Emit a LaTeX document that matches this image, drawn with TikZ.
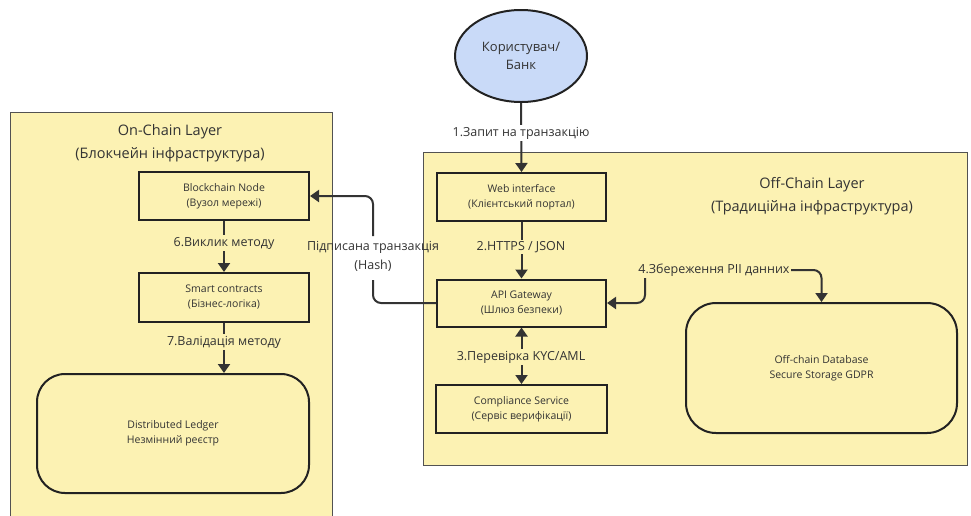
\documentclass[tikz,border=0pt]{standalone}
\usepackage{fontspec}
\setmainfont{Open Sans}
\usetikzlibrary{arrows.meta,shapes.geometric}
\definecolor{layerfill}{HTML}{FCF2B3}
\definecolor{userfill}{HTML}{C9DAF8}
\definecolor{ink}{HTML}{333333}
\definecolor{frame}{HTML}{222222}
\begin{document}
\begin{tikzpicture}[x=1pt,y=-1pt,
  layer/.style={draw=ink!85, line width=1pt, fill=layerfill},
  layertitle/.style={align=center, text=ink, font=\fontsize{14.5}{23}\selectfont},
  stepbox/.style={draw=frame, line width=2pt, fill=layerfill, align=center,
    text=ink, font=\fontsize{10.5}{15}\selectfont, inner sep=0pt},
  store/.style={stepbox, rounded corners=28pt},
  flow/.style={draw=ink, line width=2pt, -{Triangle[length=9pt,width=12pt]}},
  bothflow/.style={draw=ink, line width=2pt,
    {Triangle[length=9pt,width=12pt]}-{Triangle[length=9pt,width=12pt]}},
  plain/.style={draw=ink, line width=2pt},
  edgetext/.style={align=center, text=ink, font=\fontsize{12.5}{19}\selectfont,
    inner sep=1.5pt},
]
\useasboundingbox (0,0) rectangle (971,515);

% layers
\path[layer] (10,112) rectangle (332,530);
\path[layer] (423,152) rectangle (967,465);
\node[layertitle] (ontitle) at (170,143) {On-Chain Layer\\(Блокчейн інфраструктура)};
\node[layertitle] (offtitle) at (812,196) {Off-Chain Layer\\(Традиційна інфраструктура)};

% user
\node[ellipse, draw=frame, line width=2pt, fill=userfill, minimum width=132pt,
  minimum height=92pt, inner sep=0pt, align=center, text=ink,
  font=\fontsize{13}{18}\selectfont] (user) at (521,56) {Користувач/\\Банк};

% on-chain nodes
\node[stepbox, minimum width=170pt, minimum height=48pt] (bn) at (224,196)
  {Blockchain Node\\(Вузол мережі)};
\node[stepbox, minimum width=170pt, minimum height=49pt] (sc) at (224,297.5)
  {Smart contracts\\(Бізнес-логіка)};
\node[store, minimum width=272pt, minimum height=119pt] (ledger) at (173,433.5)
  {Distributed Ledger\\Незмінний реєстр};

% off-chain nodes
\node[stepbox, minimum width=169pt, minimum height=48pt] (web) at (521.5,197)
  {Web interface\\(Клієнтський портал)};
\node[stepbox, minimum width=169pt, minimum height=47pt] (api) at (521.5,303)
  {API Gateway\\(Шлюз безпеки)};
\node[stepbox, minimum width=171pt, minimum height=48pt] (comp) at (521.5,409)
  {Compliance Service\\(Сервіс верифікації)};
\node[store, rounded corners=30pt, minimum width=271pt, minimum height=130pt] (db)
  at (821.5,368) {Off-chain Database\\Secure Storage GDPR};

% connectors
\draw[flow] (user.south) -- (web.north);
\node[edgetext, fill=white] (l1) at (521,133) {1.Запит на транзакцію};

\draw[flow] (web.south) -- (api.north);
\node[edgetext, fill=layerfill] (l2) at (521,247) {2.HTTPS / JSON};

\draw[bothflow] (api.south) -- (comp.north);
\node[edgetext, fill=layerfill] (l3) at (521,357) {3.Перевірка KYC/AML};

\draw[bothflow, rounded corners=8pt] (api.east) -- (645,303) -- (645,270)
  -- (821.5,270) -- (db.north);
\node[edgetext, fill=layerfill] (l4) at (714,270) {4.Збереження PII данних};

\draw[flow] (bn.south) -- (sc.north);
\node[edgetext, fill=layerfill] (l6) at (224,243) {6.Виклик методу};

\draw[flow] (sc.south) -- (sc.south |- ledger.north);
\node[edgetext, fill=layerfill] (l7) at (224,342) {7.Валідація методу};

% signed transaction, broken around its label
\node[edgetext] (hash) at (373,256.5) {Підписана транзакція\\(Hash)};
\coordinate (hashtop) at (373,236);
\coordinate (hashbot) at (373,280);
\draw[plain, rounded corners=8pt] (api.west) -- (373,303) -- (hashbot);
\draw[flow, rounded corners=8pt] (hashtop) -- (373,196) -- (bn.east);
\end{tikzpicture}
\end{document}
